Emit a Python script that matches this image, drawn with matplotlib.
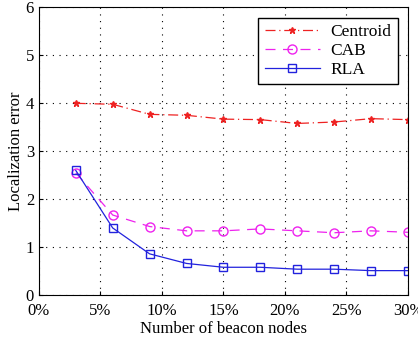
import numpy as np
import matplotlib
matplotlib.use('Agg')
import matplotlib.pyplot as plt
from matplotlib.ticker import FuncFormatter

plt.rcParams['font.family'] = ['Liberation Serif', 'DejaVu Serif']
plt.rcParams['mathtext.fontset'] = 'stix'

beacon = [3, 6, 9, 12, 15, 18, 21, 24, 27, 30]
centroid = [4.0, 3.98, 3.77, 3.75, 3.67, 3.66, 3.58, 3.61, 3.68, 3.66]
cab = [2.55, 1.67, 1.43, 1.34, 1.34, 1.38, 1.34, 1.30, 1.34, 1.31]
rla = [2.60, 1.40, 0.86, 0.66, 0.58, 0.58, 0.54, 0.54, 0.51, 0.51]

fig = plt.figure(figsize=(4.18, 3.38), dpi=100)
ax = fig.add_axes([0.093, 0.127, 0.883, 0.851])

ax.plot(beacon, centroid, color='#ee2222', linestyle=(0, (8, 3, 1, 3)), lw=0.9,
        marker='*', ms=5, mfc='#ee2222', mec='#ee2222', label='Centroid')
ax.plot(beacon, cab, color='#ee22ee', linestyle=(0, (8, 6)), lw=0.9,
        marker='o', ms=6.5, mfc='none', mec='#ee22ee', label='CAB')
ax.plot(beacon, rla, color='#2222dd', linestyle='-', lw=0.9,
        marker='s', ms=5.5, mfc='none', mec='#2222dd', label='RLA')

ax.set_xlim(0, 30)
ax.set_ylim(0, 6)
ax.set_xticks(np.arange(0, 31, 5))
ax.xaxis.set_major_formatter(FuncFormatter(lambda v, p: '%d%%' % v))
ax.set_yticks(range(0, 7))
ax.tick_params(direction='in', labelsize=12, length=3)
ax.tick_params(axis='x', pad=6)
ax.grid(True, linestyle=(0, (1, 5)), color='black', lw=0.8)
ax.set_xlabel('Number of beacon nodes', fontsize=12, labelpad=1)
ax.set_ylabel('Localization error', fontsize=12, labelpad=1)

leg = ax.legend(loc='upper right', fontsize=12.5, fancybox=False, framealpha=1,
                edgecolor='black', borderaxespad=0.6, handlelength=3.2,
                labelspacing=0.15, borderpad=0.35, handletextpad=0.6)
leg.get_frame().set_linewidth(1.0)

fig.savefig('out.png', dpi=100)
